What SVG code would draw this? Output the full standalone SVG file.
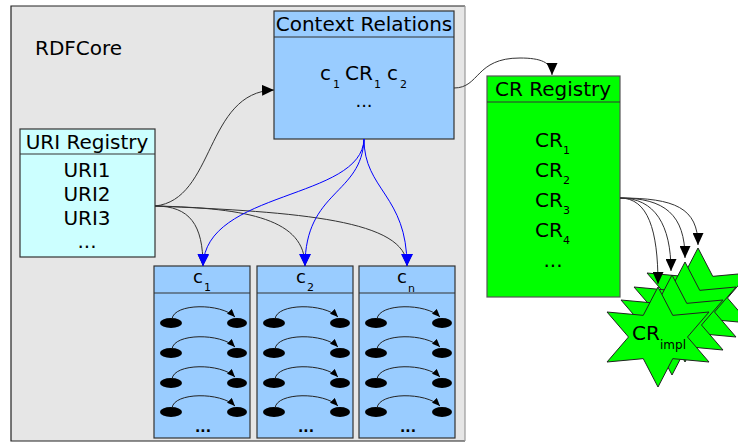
<svg xmlns="http://www.w3.org/2000/svg" xmlns:xlink="http://www.w3.org/1999/xlink" width="738" height="442" viewBox="0 0 738 442">
<style>
text{font-family:"DejaVu Sans","Liberation Sans",sans-serif;fill:#000}
.t20{font-size:20px}
.t18{font-size:18px}
.sub{font-size:11px}
.box{stroke:#333;stroke-width:1.2}
.conn{fill:none;stroke:#333;stroke-width:1}
.blue{fill:none;stroke:#0000ff;stroke-width:1}
.star{fill:#00ff00;stroke:#222;stroke-width:1}
</style>
<defs>
<marker id="ah" viewBox="0 0 12 11" refX="12" refY="5.5" markerWidth="12" markerHeight="11" markerUnits="userSpaceOnUse" orient="auto"><path d="M0,0 L12,5.5 L0,11 z" fill="#000"/></marker>
<marker id="ahb" viewBox="0 0 12 12" refX="12" refY="6" markerWidth="12" markerHeight="12" markerUnits="userSpaceOnUse" orient="auto"><path d="M0,0 L12,6 L0,12 z" fill="#0000ff"/></marker>
<marker id="ahs" viewBox="0 0 8 7" refX="8" refY="3.5" markerWidth="8" markerHeight="7" markerUnits="userSpaceOnUse" orient="auto"><path d="M0,0 L8,3.5 L0,7 z" fill="#000"/></marker>
<g id="pair"><ellipse cx="0" cy="0" rx="11" ry="5" fill="#000"/><ellipse cx="66" cy="0" rx="10" ry="5" fill="#000"/><path d="M1,-4 C3,-20 50,-20 64,-6" fill="none" stroke="#222" stroke-width="1" marker-end="url(#ahs)"/></g>
<polygon id="starshape" points="0,-50 14.75,-21.65 51,-25 29.5,0 51,25 14.75,21.65 0,50 -14.75,21.65 -51,25 -29.5,0 -51,-25 -14.75,-21.65"/>
</defs>
<rect width="738" height="442" fill="#fff"/>

<g id="rdfcore">
<rect x="11" y="6" width="454" height="435" fill="#e6e6e6"/>
<path d="M465,6 H11 V441 H465" fill="none" stroke="#222" stroke-width="1.2"/>
<path d="M465,6 V441" fill="none" stroke="#999" stroke-width="1.2"/>
<text class="t20" x="35" y="55">RDFCore</text>
</g>

<g id="context-relations">
<rect class="box" x="274" y="11" width="180" height="128" fill="#99ccff"/>
<line class="box" x1="274" y1="37" x2="454" y2="37"/>
<text class="t20" x="364" y="31" text-anchor="middle">Context Relations</text>
<text class="t20" x="320" y="80">c</text><text class="sub" x="333" y="88">1</text>
<text class="t20" x="345" y="80">CR</text><text class="sub" x="374" y="88">1</text>
<text class="t20" x="387" y="80">c</text><text class="sub" x="400" y="88">2</text>
<text class="t18" x="364" y="107" text-anchor="middle">...</text>
</g>

<g id="uri-registry">
<rect class="box" x="20" y="129" width="135" height="128" fill="#ccffff"/>
<line class="box" x1="20" y1="154" x2="155" y2="154"/>
<text class="t20" x="87" y="149" text-anchor="middle">URI Registry</text>
<text class="t20" x="87" y="177" text-anchor="middle">URI1</text>
<text class="t20" x="87" y="201" text-anchor="middle">URI2</text>
<text class="t20" x="87" y="225" text-anchor="middle">URI3</text>
<text class="t20" x="87" y="248" text-anchor="middle">...</text>
</g>

<g id="c1">
<rect class="box" x="154" y="266" width="96" height="172" fill="#99ccff"/>
<line class="box" x1="154" y1="293" x2="250" y2="293"/>
<text class="t18" x="193" y="283">c</text><text class="sub" x="204" y="291">1</text>
<use xlink:href="#pair" x="171" y="323"/>
<use xlink:href="#pair" x="171" y="353"/>
<use xlink:href="#pair" x="171" y="383"/>
<use xlink:href="#pair" x="171" y="412"/>
<text x="203" y="432" text-anchor="middle" font-size="14" font-weight="bold">...</text>
</g>

<g id="c2">
<rect class="box" x="257" y="266" width="96" height="172" fill="#99ccff"/>
<line class="box" x1="257" y1="293" x2="353" y2="293"/>
<text class="t18" x="296" y="283">c</text><text class="sub" x="307" y="291">2</text>
<use xlink:href="#pair" x="274" y="323"/>
<use xlink:href="#pair" x="274" y="353"/>
<use xlink:href="#pair" x="274" y="383"/>
<use xlink:href="#pair" x="274" y="412"/>
<text x="306" y="432" text-anchor="middle" font-size="14" font-weight="bold">...</text>
</g>

<g id="cn">
<rect class="box" x="359" y="266" width="96" height="172" fill="#99ccff"/>
<line class="box" x1="359" y1="293" x2="455" y2="293"/>
<text class="t18" x="397" y="283">c</text><text class="sub" x="408" y="292">n</text>
<use xlink:href="#pair" x="376" y="323"/>
<use xlink:href="#pair" x="376" y="353"/>
<use xlink:href="#pair" x="376" y="383"/>
<use xlink:href="#pair" x="376" y="412"/>
<text x="408" y="432" text-anchor="middle" font-size="14" font-weight="bold">...</text>
</g>

<g id="cr-registry">
<rect x="487" y="76" width="133" height="221" fill="#00ff00" stroke="#555" stroke-width="1.2"/>
<line x1="487" y1="102" x2="620" y2="102" stroke="#333" stroke-width="1.2"/>
<text class="t20" x="553" y="96" text-anchor="middle">CR Registry</text>
<text class="t20" x="535" y="147">CR</text><text class="sub" x="563" y="154">1</text>
<text class="t20" x="535" y="177">CR</text><text class="sub" x="563" y="184">2</text>
<text class="t20" x="535" y="207">CR</text><text class="sub" x="563" y="214">3</text>
<text class="t20" x="535" y="237">CR</text><text class="sub" x="563" y="244">4</text>
<text class="t20" x="553" y="267" text-anchor="middle">...</text>
</g>

<g id="cr-impl">
<use xlink:href="#starshape" class="star" x="698" y="298"/>
<use xlink:href="#starshape" class="star" x="685" y="312"/>
<use xlink:href="#starshape" class="star" x="672" y="325"/>
<use xlink:href="#starshape" class="star" x="658" y="337"/>
<text class="t20" x="632" y="340">CR</text><text x="660" y="349" font-size="12">impl</text>
</g>

<g id="connectors">
<path class="conn" d="M155,206 C215,200 205,92 274,90" marker-end="url(#ah)"/>
<path class="conn" d="M155,206 C190,206 203,225 203,266" marker-end="url(#ah)"/>
<path class="conn" d="M155,206 C250,208 305,220 305,266" marker-end="url(#ah)"/>
<path class="conn" d="M155,206 C300,212 407,220 407,266" marker-end="url(#ah)"/>
<path class="blue" d="M364,139 C362,200 205,190 203,266" marker-end="url(#ahb)"/>
<path class="blue" d="M364,139 C362,195 305,190 305,266" marker-end="url(#ahb)"/>
<path class="blue" d="M364,139 C364,190 407,195 407,266" marker-end="url(#ahb)"/>
<path class="conn" d="M454,88 C480,88 475,58 520,58 C540,58 552,62 552,75" marker-end="url(#ah)"/>
<path class="conn" d="M620,198 C648,198 658,230 658,284" marker-end="url(#ah)"/>
<path class="conn" d="M620,198 C655,198 671,225 671,271" marker-end="url(#ah)"/>
<path class="conn" d="M620,198 C665,198 685,215 685,258" marker-end="url(#ah)"/>
<path class="conn" d="M620,198 C675,198 698,208 698,245" marker-end="url(#ah)"/>
</g>
</svg>
